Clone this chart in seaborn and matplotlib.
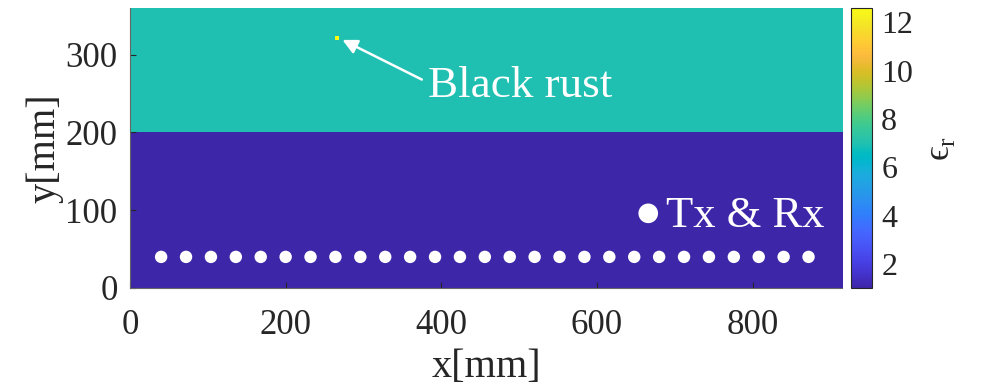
import numpy as np
import pandas as pd
import seaborn as sns
import matplotlib.pyplot as plt
from matplotlib.colors import LinearSegmentedColormap, Normalize
from matplotlib.colorbar import ColorbarBase

sns.set_theme(style='white')
plt.rcParams['font.family'] = ['Liberation Serif', 'DejaVu Serif']
plt.rcParams['mathtext.fontset'] = 'custom'
plt.rcParams['mathtext.rm'] = 'Liberation Serif'

# model geometry [mm] and relative permittivity
domain_x = 915
domain_y = 360
boundary_y = 200
eps_air = 1.0
eps_concrete = 7.0
eps_rust = 12.6
rust_x = [263, 268]
rust_y = [319, 324]

# antenna positions [mm]
antenna_x = [40, 72, 104, 136, 168, 200, 232, 264, 296, 328, 360, 392, 424, 456,
             488, 520, 552, 584, 616, 648, 680, 712, 744, 776, 808, 840, 872]
antenna_y = [40] * len(antenna_x)

x_ticks = [0, 200, 400, 600, 800]
y_ticks = [0, 100, 200, 300]
cbar_ticks = [2, 4, 6, 8, 10, 12]

# MATLAB parula
parula = [
    [0.2422, 0.1504, 0.6603], [0.2504, 0.1650, 0.7076], [0.2578, 0.1818, 0.7511],
    [0.2647, 0.1978, 0.7952], [0.2706, 0.2147, 0.8364], [0.2751, 0.2342, 0.8710],
    [0.2783, 0.2559, 0.8991], [0.2803, 0.2782, 0.9221], [0.2813, 0.3006, 0.9414],
    [0.2810, 0.3228, 0.9579], [0.2795, 0.3447, 0.9717], [0.2760, 0.3667, 0.9829],
    [0.2699, 0.3892, 0.9906], [0.2602, 0.4123, 0.9952], [0.2440, 0.4358, 0.9988],
    [0.2206, 0.4603, 0.9973], [0.1963, 0.4847, 0.9892], [0.1834, 0.5074, 0.9798],
    [0.1786, 0.5289, 0.9682], [0.1764, 0.5499, 0.9520], [0.1687, 0.5703, 0.9359],
    [0.1540, 0.5902, 0.9218], [0.1460, 0.6091, 0.9079], [0.1380, 0.6276, 0.8973],
    [0.1248, 0.6459, 0.8883], [0.1113, 0.6635, 0.8763], [0.0952, 0.6798, 0.8598],
    [0.0689, 0.6948, 0.8394], [0.0297, 0.7082, 0.8163], [0.0036, 0.7203, 0.7917],
    [0.0067, 0.7312, 0.7660], [0.0433, 0.7411, 0.7394], [0.0964, 0.7500, 0.7120],
    [0.1408, 0.7584, 0.6842], [0.1717, 0.7670, 0.6554], [0.1938, 0.7758, 0.6251],
    [0.2161, 0.7843, 0.5923], [0.2470, 0.7918, 0.5567], [0.2906, 0.7973, 0.5188],
    [0.3406, 0.8008, 0.4789], [0.3909, 0.8029, 0.4354], [0.4456, 0.8024, 0.3909],
    [0.5044, 0.7993, 0.3480], [0.5616, 0.7942, 0.3045], [0.6174, 0.7876, 0.2612],
    [0.6720, 0.7793, 0.2227], [0.7242, 0.7698, 0.1910], [0.7738, 0.7598, 0.1646],
    [0.8203, 0.7498, 0.1535], [0.8634, 0.7406, 0.1596], [0.9035, 0.7330, 0.1774],
    [0.9393, 0.7288, 0.2100], [0.9728, 0.7298, 0.2394], [0.9956, 0.7434, 0.2371],
    [0.9970, 0.7659, 0.2199], [0.9952, 0.7893, 0.2028], [0.9892, 0.8136, 0.1885],
    [0.9786, 0.8386, 0.1766], [0.9676, 0.8639, 0.1643], [0.9610, 0.8890, 0.1537],
    [0.9597, 0.9135, 0.1423], [0.9628, 0.9373, 0.1265], [0.9691, 0.9606, 0.1064],
    [0.9769, 0.9839, 0.0805]]
cmap = LinearSegmentedColormap.from_list('parula', parula)

# permittivity map on a 1 mm grid
yy, xx = np.mgrid[0:domain_y, 0:domain_x] + 0.5
eps_map = np.full(xx.shape, eps_air)
eps_map[yy >= boundary_y] = eps_concrete
eps_map[(xx >= rust_x[0]) & (xx < rust_x[1]) & (yy >= rust_y[0]) & (yy < rust_y[1])] = eps_rust

fig = plt.figure(figsize=(9.86, 3.90), dpi=100)
ax = fig.add_axes([130 / 986, 102 / 390, 712 / 986, 280 / 390])
cax = fig.add_axes([851 / 986, 102 / 390, 20.5 / 986, 280 / 390])

norm = Normalize(vmin=eps_map.min(), vmax=eps_map.max())
ax.imshow(eps_map, cmap=cmap, norm=norm, origin='lower', aspect='auto',
          extent=[0, domain_x, 0, domain_y], interpolation='nearest')

ant_df = pd.DataFrame({'x': antenna_x, 'y': antenna_y})
sns.scatterplot(data=ant_df, x='x', y='y', ax=ax, color='white', s=80,
                edgecolor='none', legend=False, zorder=3)

# Tx & Rx marker label
ax.scatter([666], [96], color='white', s=200, edgecolor='none', zorder=3)
ax.text(689, 78, 'Tx & Rx', color='white', fontsize=32, ha='left', va='baseline')

# black rust annotation
ax.annotate('', xy=(273, 319), xytext=(375, 268),
            arrowprops=dict(arrowstyle='-|>', color='white', lw=1.8,
                            mutation_scale=22, shrinkA=0, shrinkB=0))
ax.text(383, 246, 'Black rust', color='white', fontsize=32.5, ha='left', va='baseline')

ax.set_xlim(0, domain_x)
ax.set_ylim(0, domain_y)
ax.set_xticks(x_ticks)
ax.set_yticks(y_ticks)
ax.tick_params(axis='both', labelsize=25, direction='in', length=4, width=0.8,
               colors='0.15', labelcolor='0.15', bottom=True, left=True)
ax.tick_params(axis='x', pad=15)
ax.tick_params(axis='y', pad=9)
ax.set_xlabel('x[mm]', fontsize=29, color='0.15', labelpad=5)
ax.set_ylabel('y[mm]', fontsize=29, color='0.15', labelpad=1)
for side in ['left', 'bottom']:
    ax.spines[side].set_color('0.4')
    ax.spines[side].set_linewidth(0.8)
for side in ['top', 'right']:
    ax.spines[side].set_visible(False)

cb = ColorbarBase(cax, cmap=cmap, norm=norm, orientation='vertical')
cb.set_ticks(cbar_ticks)
cb.ax.tick_params(labelsize=23, direction='in', length=4, width=0.8,
                  colors='0.15', labelcolor='0.15', pad=7)
cb.outline.set_edgecolor('0.15')
cb.outline.set_linewidth(0.8)
cb.set_label('\u03f5$_\\mathrm{r}$', fontsize=26, rotation=90, labelpad=8, color='0.15')

fig.savefig('out.png', dpi=100)
